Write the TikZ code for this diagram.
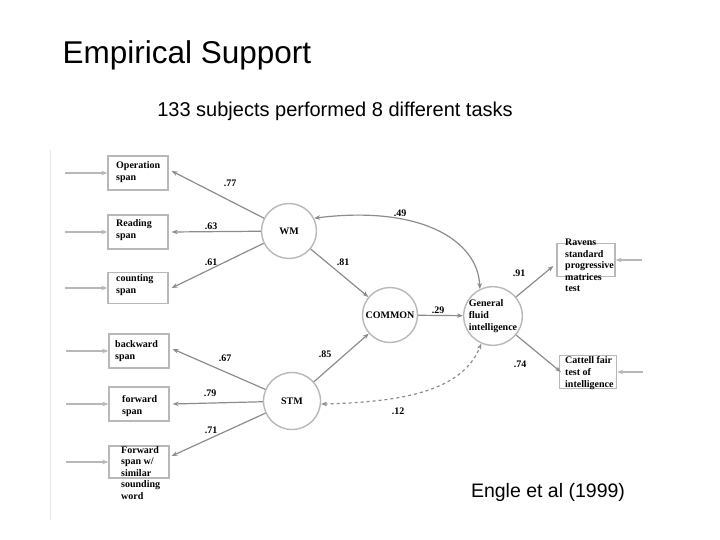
\documentclass[tikz,border=0pt]{standalone}
\usepackage{fontspec}
\setmainfont{Liberation Serif}
\setsansfont{Liberation Sans}
\usepackage{tikz}
\usetikzlibrary{arrows.meta}
\definecolor{lineGray}{HTML}{8C8C8C}
\definecolor{boxGray}{HTML}{B8B8B8}

\tikzset{
  indbox/.style={draw=boxGray, line width=1.3pt, fill=white, minimum width=60pt, minimum height=34pt, inner sep=0pt},
  indtext/.style={anchor=north west, align=left, inner sep=0pt, font=\fontsize{10}{12}\selectfont\bfseries},
  latent/.style={circle, draw=boxGray, line width=1.4pt, minimum size=55pt, inner sep=0pt, font=\fontsize{10}{12}\selectfont\bfseries},
  loadarr/.style={draw=lineGray, line width=1.2pt, -{Stealth[length=6pt,width=4.5pt]}},
  botharr/.style={draw=lineGray, line width=1.2pt, {Stealth[length=6pt,width=4.5pt]}-{Stealth[length=6pt,width=4.5pt]}},
  coef/.style={font=\fontsize{10}{12}\selectfont\bfseries}
}

\begin{document}
\begin{tikzpicture}[x=1pt, y=-1pt]
    \fill[white] (0,0) rectangle (720,540);
    \useasboundingbox (0,0) rectangle (720,540);
    \draw[black!10, line width=1pt] (50,150) -- (50,520);

    % titles
    \node[font=\sffamily\fontsize{31.5}{36}\selectfont, anchor=west] (title) at (59,55) {Empirical Support};
    \node[font=\sffamily\fontsize{20}{24}\selectfont] (sub) at (335,111) {133 subjects performed 8 different tasks};
    \node[font=\sffamily\fontsize{19.5}{23}\selectfont] (ref) at (548,492) {Engle et al (1999)};

    % indicator boxes
    \node[indbox] (ops) at (138,173) {};
    \node[indbox] (rds) at (138,232) {};
    \node[indbox, minimum height=31pt] (cnt) at (138,288) {};
    \node[indbox] (bws) at (139,351) {};
    \node[indbox] (fws) at (139,404) {};
    \node[indbox, minimum height=32pt] (sim) at (139,462) {};
    \node[indbox, minimum width=58pt, minimum height=33pt] (rav) at (586,260) {};
    \node[indbox, minimum width=57pt, minimum height=33pt] (cat) at (588,372) {};

    \node[indtext] (opst) at (116,161) {Operation\\span};
    \node[indtext] (rdst) at (116,219) {Reading\\span};
    \node[indtext] (cntt) at (116,274) {counting\\span};
    \node[indtext] (bwst) at (115,340) {backward\\span};
    \node[indtext] (fwst) at (122,395) {forward\\span};
    \node[indtext, font=\fontsize{10}{11.5}\selectfont\bfseries] (simt) at (121,446) {Forward\\span w/\\similar\\sounding\\word};
    \node[indtext, font=\fontsize{10}{11.5}\selectfont\bfseries] (ravt) at (565,239) {Ravens\\standard\\progressive\\matrices\\test};
    \node[indtext] (catt) at (565,356) {Cattell fair\\test of\\intelligence};

    % latent variables
    \node[latent] (wm) at (289,231) {WM};
    \node[latent] (common) at (390,315) {COMMON};
    \node[latent, minimum size=57pt, align=left] (gf) at (493,316) {General\\fluid\\intelligence};
    \node[latent, minimum size=57pt] (stm) at (292,401) {STM};

    % input arrows
    \foreach \n in {ops,rds,cnt,bws,fws,sim}
        \draw[loadarr, draw=boxGray] ([xshift=-42pt]\n.west) -- (\n.west);
    \foreach \n in {rav,cat}
        \draw[loadarr, draw=boxGray] ([xshift=26pt]\n.east) -- (\n.east);

    % loadings
    \draw[loadarr] (wm) -- ([xshift=3pt,yshift=2pt]ops.east);
    \draw[loadarr] (wm) -- ([xshift=3pt]rds.east);
    \draw[loadarr] (wm) -- ([xshift=3pt]cnt.east);
    \draw[loadarr] (stm) -- ([xshift=3pt,yshift=2pt]bws.east);
    \draw[loadarr] (stm) -- ([xshift=3pt]fws.east);
    \draw[loadarr] (stm) -- ([xshift=2pt,yshift=6pt]sim.east);
    \draw[loadarr] (wm) -- (common);
    \draw[loadarr] (stm) -- (common);
    \draw[loadarr] (common) -- (gf);
    \draw[loadarr] (gf) -- ([xshift=-3pt,yshift=-6pt]rav.west);
    \draw[loadarr] (gf) -- ([xshift=2pt]cat.west);
    \draw[botharr] (wm.27) .. controls (420,205) and (478,240) .. (gf.116);
    \draw[botharr, dashed] (stm.-6) .. controls (400,402) and (462,392) .. (gf.-113);

    % coefficients
    \node[coef] (c77) at (230,183) {.77};
    \node[coef] (c63) at (211,226) {.63};
    \node[coef] (c61) at (211,262) {.61};
    \node[coef] (c49) at (400,213) {.49};
    \node[coef] (c81) at (343,262) {.81};
    \node[coef] (c91) at (519,273) {.91};
    \node[coef] (c29) at (438,310) {.29};
    \node[coef] (c85) at (325,354) {.85};
    \node[coef] (c74) at (520,364) {.74};
    \node[coef] (c67) at (225,358) {.67};
    \node[coef] (c79) at (210,393) {.79};
    \node[coef] (c71) at (211,430) {.71};
    \node[coef] (c12) at (398,411) {.12};
\end{tikzpicture}
\end{document}
